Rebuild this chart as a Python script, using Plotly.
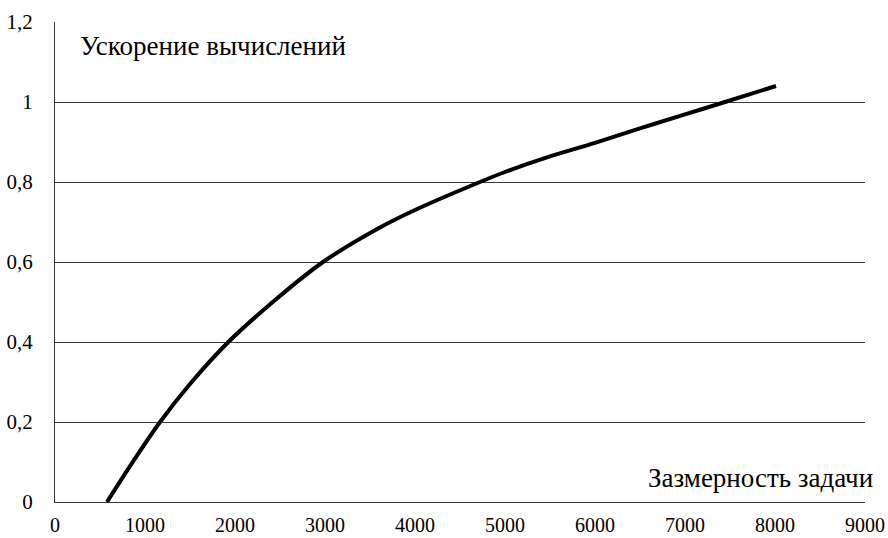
import plotly.graph_objects as go

# Problem size vs. computation speedup
size = [578, 870, 1167, 1500, 1926, 2420, 2978, 3600, 4000, 4722, 5000, 5500, 6000, 6500, 7000, 7444, 8011]
speedup = [0.0, 0.102, 0.20, 0.295, 0.40, 0.50, 0.60, 0.685, 0.73, 0.80, 0.825, 0.864, 0.898, 0.934, 0.969, 1.0, 1.04]

x_ticks = [0, 1000, 2000, 3000, 4000, 5000, 6000, 7000, 8000, 9000]
y_ticks = [0, 0.2, 0.4, 0.6, 0.8, 1.0, 1.2]

y_title = "Ускорение вычислений"
x_title = "Зазмерность задачи"

font_family = "Liberation Serif"

fig = go.Figure()
fig.add_trace(go.Scatter(
    x=size, y=speedup, mode="lines",
    line=dict(color="black", width=4, shape="spline", smoothing=1.0),
    showlegend=False, hoverinfo="skip",
))

fig.update_layout(
    width=888, height=538,
    margin=dict(l=55, r=23, t=22, b=36),
    paper_bgcolor="white", plot_bgcolor="white",
    separators=", ",
    font=dict(family=font_family, size=21, color="black"),
    xaxis=dict(
        range=[0, 9000], tickvals=x_ticks, showgrid=False, zeroline=False,
        showline=True, linecolor="#3a3a3a", linewidth=1, automargin=False,
        ticks="", ticklabelstandoff=5,
        tickfont=dict(family=font_family, size=20, color="black"),
    ),
    yaxis=dict(
        range=[0, 1.2], tickvals=y_ticks, showgrid=True, gridcolor="#3a3a3a",
        gridwidth=1, zeroline=False, showline=True, linecolor="#3a3a3a",
        linewidth=1, ticks="", ticklabelstandoff=17, automargin=False,
        tickfont=dict(family=font_family, size=21, color="black"),
    ),
    annotations=[
        dict(text=y_title, xref="paper", yref="paper", x=0.028, y=0.95,
             xanchor="left", yanchor="middle", showarrow=False,
             font=dict(family=font_family, size=27, color="black")),
        dict(text=x_title, xref="paper", yref="paper", x=1.012, y=0.05,
             xanchor="right", yanchor="middle", showarrow=False,
             font=dict(family=font_family, size=27, color="black")),
    ],
)

fig.write_html("out.html", config={"displayModeBar": False},
               post_script="document.body.style.margin='0';")
